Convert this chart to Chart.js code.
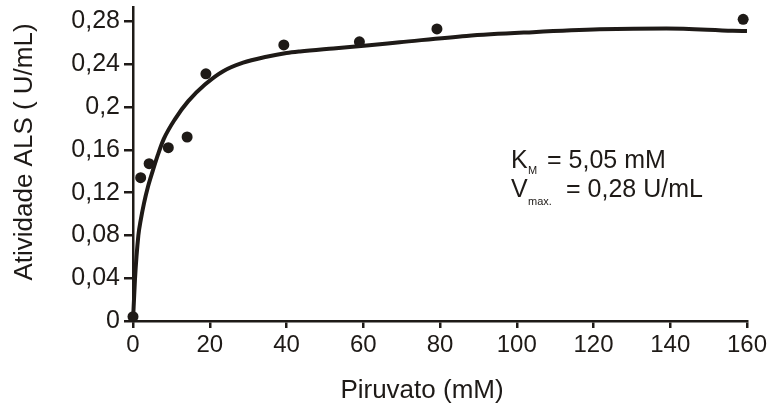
<!DOCTYPE html>
<html>
<head>
<meta charset="utf-8">
<script src="https://cdn.jsdelivr.net/npm/chart.js@4"></script>
<style>
  html, body { margin: 0; padding: 0; background: #fff; }
  canvas { display: block; }
</style>
</head>
<body>
<canvas id="grafico" width="773" height="411"></canvas>
<script>
// pontos experimentais
const concPiruvato = [0, 2, 4.2, 9.2, 14.1, 19, 39.3, 59, 79.2, 159];
const atividadeALS = [0.004, 0.134, 0.147, 0.162, 0.172, 0.231, 0.258, 0.261, 0.273, 0.282];

// curva ajustada (lida ponto a ponto)
const ajusteX = [0, 0.5, 1.4, 2.0, 2.86, 3.9, 5.2, 6.5, 8.0, 11.0, 14.4, 18.75, 23.5, 28.7, 34.8, 40, 43.5, 52.2, 60.9, 69.5, 86.9, 104.2, 121.6, 139, 156.3, 160];
const ajusteY = [0, 0.038, 0.080, 0.094, 0.110, 0.1255, 0.141, 0.1555, 0.170, 0.189, 0.2055, 0.221, 0.2335, 0.2415, 0.247, 0.2505, 0.252, 0.2548, 0.2575, 0.2605, 0.2665, 0.270, 0.2726, 0.2735, 0.2713, 0.271];

// marcas dos eixos
const ticksX = [0, 20, 40, 60, 80, 100, 120, 140, 160];
const ticksY = [0, 0.04, 0.08, 0.12, 0.16, 0.2, 0.24, 0.28];

const tinta = '#1e1a17';
const fonte = '"Liberation Sans", Arial, sans-serif';

const virgula = v => String(+v.toFixed(2)).replace('.', ',');

// títulos dos eixos e constantes cinéticas
const legendasPlugin = {
    id: 'legendas',
    afterDraw(chart) {
        const ctx = chart.ctx;
        ctx.save();
        ctx.fillStyle = tinta;

        ctx.font = '26px ' + fonte;
        ctx.textAlign = 'center';
        ctx.textBaseline = 'middle';
        ctx.fillText('Piruvato (mM)', 422, 391);

        ctx.save();
        ctx.translate(25, 152);
        ctx.rotate(-Math.PI / 2);
        ctx.fillText('Atividade ALS ( U/mL)', 0, 0);
        ctx.restore();

        ctx.textAlign = 'left';
        ctx.textBaseline = 'alphabetic';
        ctx.font = '25px ' + fonte;
        ctx.fillText('K', 511, 168);
        ctx.fillText('= 5,05 mM', 547, 168);
        ctx.fillText('V', 511, 197);
        ctx.fillText('= 0,28 U/mL', 566, 197);
        ctx.font = '11px ' + fonte;
        ctx.fillText('M', 528, 174);
        ctx.fillText('max.', 528, 205);
        ctx.restore();
    }
};

new Chart(document.getElementById('grafico'), {
    type: 'scatter',
    data: {
        datasets: [
            {
                type: 'line',
                data: ajusteX.map((x, i) => ({ x: x, y: ajusteY[i] })),
                borderColor: tinta,
                borderWidth: 4,
                pointRadius: 0,
                cubicInterpolationMode: 'monotone',
                fill: false,
                clip: false,
                order: 2
            },
            {
                data: concPiruvato.map((x, i) => ({ x: x, y: atividadeALS[i] })),
                backgroundColor: tinta,
                borderWidth: 0,
                pointRadius: 5.5,
                clip: false,
                order: 1
            }
        ]
    },
    options: {
        responsive: false,
        animation: false,
        layout: { padding: { top: 7, right: 26, left: 0, bottom: 0 } },
        plugins: {
            legend: { display: false },
            tooltip: { enabled: false }
        },
        scales: {
            x: {
                type: 'linear',
                min: 0,
                max: 160,
                afterBuildTicks: s => { s.ticks = ticksX.map(v => ({ value: v })); },
                afterFit: s => {
                    s.height = 90;
                    s.paddingLeft = 0;
                    s.paddingRight = 0;
                },
                border: { color: tinta, width: 2.5 },
                grid: { drawOnChartArea: false, color: tinta, lineWidth: 2.5, tickLength: 7 },
                ticks: {
                    color: tinta,
                    padding: 3,
                    maxRotation: 0,
                    font: { family: fonte, size: 24 },
                    callback: v => String(v)
                }
            },
            y: {
                type: 'linear',
                min: 0,
                max: 0.2935,
                afterBuildTicks: s => { s.ticks = ticksY.map(v => ({ value: v })); },
                afterFit: s => {
                    s.width = 133;
                    s.paddingTop = 0;
                    s.paddingBottom = 0;
                },
                border: { color: tinta, width: 2.5 },
                grid: { drawOnChartArea: false, color: tinta, lineWidth: 2.5, tickLength: 9 },
                ticks: {
                    color: tinta,
                    padding: 4,
                    font: { family: fonte, size: 25 },
                    callback: v => virgula(v)
                }
            }
        }
    },
    plugins: [legendasPlugin]
});
</script>
</body>
</html>
